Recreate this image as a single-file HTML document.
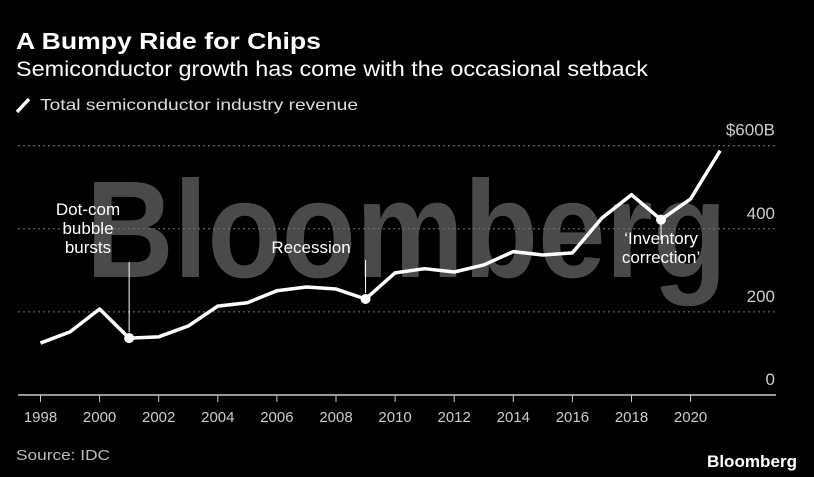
<!DOCTYPE html>
<html><head><meta charset="utf-8"><style>
body{margin:0;background:#000;width:814px;height:477px;overflow:hidden;font-family:"Liberation Sans",sans-serif;color:#fff}
svg{position:absolute;left:0;top:0}
</style></head><body>
<svg width="814" height="477">
<text x="16" y="49" font-size="23" font-weight="bold" fill="#fff" textLength="305" lengthAdjust="spacingAndGlyphs">A Bumpy Ride for Chips</text>
<text x="16" y="76" font-size="21" fill="#fff" textLength="632" lengthAdjust="spacingAndGlyphs">Semiconductor growth has come with the occasional setback</text>
<line x1="17" y1="112" x2="29" y2="99" stroke="#fff" stroke-width="3.5"/>
<text x="40" y="110" font-size="16" fill="#ddd" textLength="318" lengthAdjust="spacingAndGlyphs">Total semiconductor industry revenue</text>
<text x="86" y="277" font-size="138" font-weight="bold" fill="#4a4a4a" textLength="641" lengthAdjust="spacingAndGlyphs">Bloomberg</text>
<g id="grid"></g><g id="axis"></g><g id="series"></g><g id="ann"></g>
<text x="16" y="460" font-size="15" fill="#bbb" textLength="94" lengthAdjust="spacingAndGlyphs">Source: IDC</text>
<text x="797" y="467" font-size="17" font-weight="bold" fill="#fff" text-anchor="end" textLength="90" lengthAdjust="spacingAndGlyphs">Bloomberg</text>
</svg>
<script>
const years=[1998,1999,2000,2001,2002,2003,2004,2005,2006,2007,2008,2009,2010,2011,2012,2013,2014,2015,2016,2017,2018,2019,2020,2021];
const revenue=[125,152,207,137,140,166,214,222,251,260,255,231,294,304,296,313,345,337,342,426,482,422,472,588];
const yTicks=[0,200,400,600];
const yTickLabels=["0","200","400","$600B"];
const xTicks=[1998,2000,2002,2004,2006,2008,2010,2012,2014,2016,2018,2020];
const notes=[{year:2001,label:["Dot-com","bubble","bursts"]},{year:2009,label:["Recession"]},{year:2019,label:["‘Inventory","correction’"]}];
const NS="http://www.w3.org/2000/svg";
const X=y=>40.5+(y-1998)*29.55;
const Y=v=>395-v*0.4155;
function mk(t,a,p){const e=document.createElementNS(NS,t);for(const k in a)e.setAttribute(k,a[k]);p.appendChild(e);return e;}
const grid=document.getElementById('grid'),axis=document.getElementById('axis'),series=document.getElementById('series'),ann=document.getElementById('ann');
yTicks.forEach((v,i)=>{
 if(v>0){const l=mk('line',{x1:18,x2:776,y1:Y(v),y2:Y(v),stroke:'#777','stroke-dasharray':'2,3','stroke-width':1},grid);
 
 }
 const t=mk('text',{x:775,y:Y(v)-10,'font-size':17,fill:'#ccc','text-anchor':'end'},grid);t.textContent=yTickLabels[i];
 
 
});
const ax=mk('line',{x1:18,x2:776,y1:395,y2:395,stroke:'#ccc','stroke-width':1.5},axis);


xTicks.forEach(y=>{
 const l=mk('line',{x1:X(y),x2:X(y),y1:395,y2:402,stroke:'#ccc','stroke-width':1},axis);
 
 
 const t=mk('text',{x:X(y),y:422,'font-size':15,fill:'#ccc','text-anchor':'middle'},axis);t.textContent=y;
 
 
});
const line=mk('polyline',{points:years.map((y,i)=>X(y)+','+Y(revenue[i])).join(' '),fill:'none',stroke:'#fff','stroke-width':3.5,'stroke-linejoin':'round'},series);


notes.forEach((n,k)=>{
 const i=years.indexOf(n.year),cx=X(n.year),cy=Y(revenue[i]);
 const d=mk('circle',{cx:cx,cy:cy,r:5,fill:'#fff'},ann);
 
 
 let top,ly;
 if(k===2){top=cy+6;ly=cy+18;}else{ly=k===0?262:260;top=cy-6;}
 const l=mk('line',{x1:cx,x2:cx,y1:k===2?cy:ly,y2:k===2?cy+20:top,stroke:'#fff','stroke-width':1},ann);
 
 
 const lines=n.label;
 const base=k===0?215:k===1?253:244;
 const tx=k===0?88:k===1?311:X(2019);
 lines.forEach((s,j)=>{
  const t=mk('text',{x:tx,y:base+j*19,'font-size':17,fill:'#fff','text-anchor':'middle'},ann);t.textContent=s;
  
  
 });
});
</script>
</body></html>
